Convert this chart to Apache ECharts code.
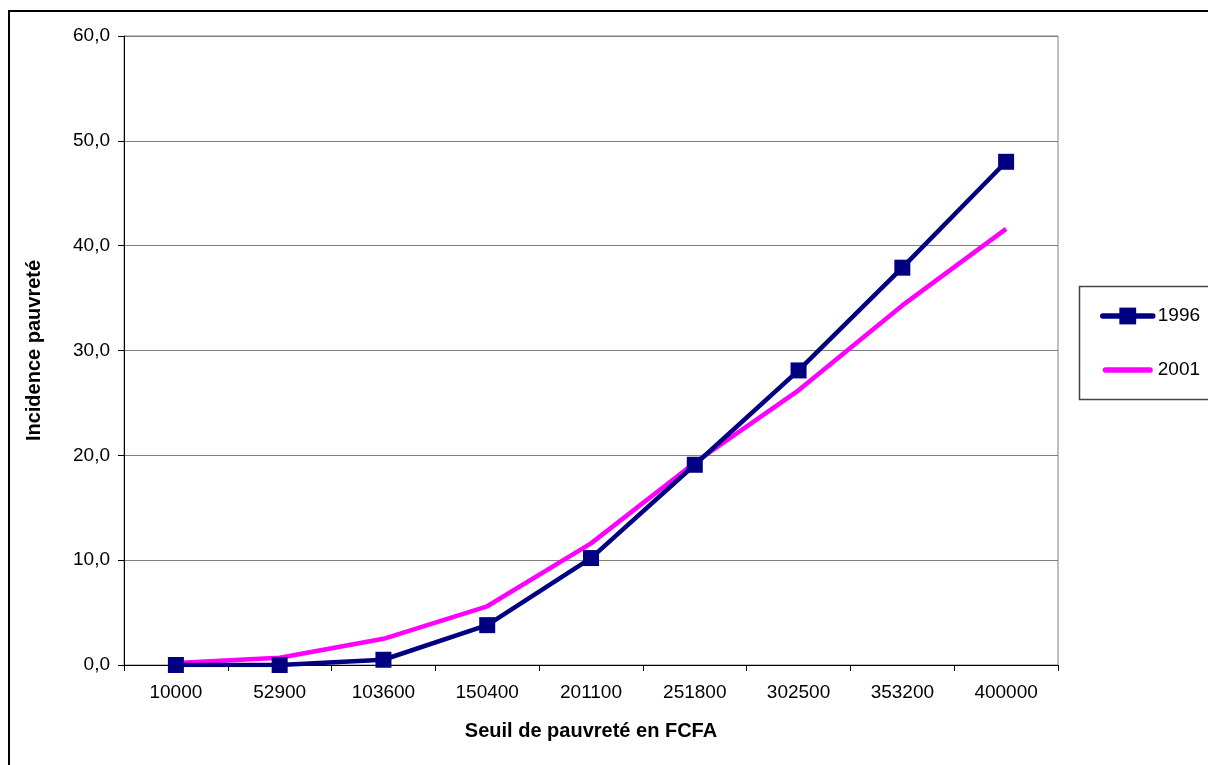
<!DOCTYPE html>
<html>
<head>
<meta charset="utf-8">
<script src="https://cdn.jsdelivr.net/npm/echarts@6/dist/echarts.min.js"></script>
<style>
  html, body { margin: 0; padding: 0; background: #fff; }
  #chart { width: 1208px; height: 765px; }
</style>
</head>
<body>
<div id="chart"></div>
<script>
// Seuils de pauvreté (FCFA) et incidence de la pauvreté (%)
const seuils = ['10000', '52900', '103600', '150400', '201100', '251800', '302500', '353200', '400000'];
const incidence1996 = [0.0, 0.0, 0.5, 3.8, 10.2, 19.1, 28.1, 37.9, 48.0];
const incidence2001 = [0.2, 0.7, 2.5, 5.6, 11.6, 19.3, 26.2, 34.3, 41.6];
const seriesNames = ['1996', '2001'];

const FONT = '"Liberation Sans", Arial, sans-serif';

// icône de légende : trait épais aux bouts arrondis (boîte 50 x 21)
const LINE_ICON = 'path://M0,0L50,0M0,21L50,21M2.75,7.75L47.25,7.75A2.75,2.75,0,0,1,47.25,13.25L2.75,13.25A2.75,2.75,0,0,1,2.75,7.75Z';

const chart = echarts.init(document.getElementById('chart'), null, { renderer: 'canvas' });

chart.setOption({
  animation: false,
  backgroundColor: '#ffffff',
  textStyle: { fontFamily: FONT },
  graphic: [
    // cadre extérieur
    {
      type: 'rect', z: 0, silent: true,
      shape: { x: 9, y: 11, width: 1400, height: 900 },
      style: { fill: null, stroke: '#000', lineWidth: 2 }
    },
    // cadre de la légende
    {
      type: 'rect', z: 0, silent: true,
      shape: { x: 1079.5, y: 286.5, width: 200, height: 113 },
      style: { fill: '#fff', stroke: '#444', lineWidth: 1.5 }
    }
  ],
  grid: {
    left: 124, right: 150, top: 36, bottom: 100,
    show: true, borderColor: '#808080', borderWidth: 1, backgroundColor: '#fff'
  },
  legend: {
    orient: 'vertical',
    left: 1095, top: 301.5,
    itemWidth: 50, itemHeight: 21, itemGap: 34,
    lineStyle: { width: 5.5, cap: 'round' },
    textStyle: { fontFamily: FONT, fontSize: 19, color: '#000' },
    data: [
      { name: seriesNames[0] },
      { name: seriesNames[1], icon: LINE_ICON, itemStyle: { borderWidth: 0 } }
    ]
  },
  xAxis: {
    type: 'category',
    data: seuils,
    boundaryGap: true,
    axisLine: { show: true, lineStyle: { color: '#000', width: 1 } },
    axisTick: { show: true, length: 6, lineStyle: { color: '#000' } },
    axisLabel: { fontFamily: FONT, fontSize: 19, color: '#000', margin: 18 },
    splitLine: { show: false },
    name: 'Seuil de pauvreté en FCFA',
    nameLocation: 'middle',
    nameGap: 56,
    nameTextStyle: { fontFamily: FONT, fontSize: 20, fontWeight: 'bold', color: '#000' }
  },
  yAxis: {
    type: 'value',
    min: 0, max: 60, interval: 10,
    axisLine: { show: true, lineStyle: { color: '#000', width: 1 } },
    axisTick: { show: true, length: 6, lineStyle: { color: '#000' } },
    axisLabel: {
      fontFamily: FONT, fontSize: 19, color: '#000', margin: 14,
      formatter: v => v.toFixed(1).replace('.', ',')
    },
    splitLine: { show: true, lineStyle: { color: '#808080', width: 1 } },
    name: 'Incidence pauvreté',
    nameLocation: 'middle',
    nameGap: 80,
    nameTextStyle: { fontFamily: FONT, fontSize: 20, fontWeight: 'bold', color: '#000' }
  },
  series: [
    {
      name: seriesNames[0],
      type: 'line',
      data: incidence1996,
      symbol: 'rect',
      symbolSize: 16,
      z: 3,
      lineStyle: { color: '#000080', width: 4.5 },
      itemStyle: { color: '#000080', borderWidth: 0 }
    },
    {
      name: seriesNames[1],
      type: 'line',
      data: incidence2001,
      symbol: 'none',
      z: 2,
      lineStyle: { color: '#ff00ff', width: 4.5 },
      itemStyle: { color: '#ff00ff', borderWidth: 0 }
    }
  ]
});
</script>
</body>
</html>
